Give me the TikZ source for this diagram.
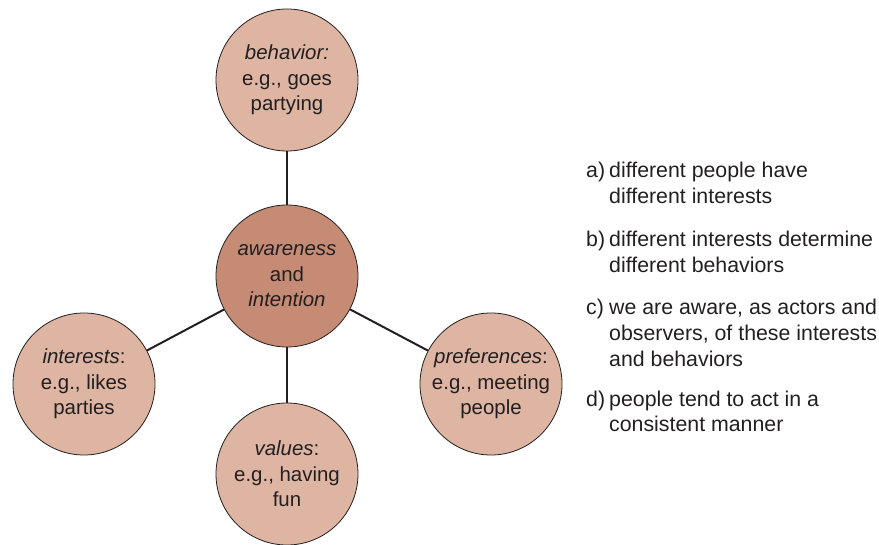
\documentclass[tikz,border=0pt]{standalone}
\usepackage{fontspec}
\setmainfont{Liberation Sans}
\definecolor{outerfill}{HTML}{DDB5A2}
\definecolor{innerfill}{HTML}{C68B75}
\definecolor{ink}{HTML}{231F20}
% one lettered statement, hanging indent after the label
\newcommand{\stmt}[2]{\begin{tabular}[t]{@{}l@{}l@{}}\makebox[23bp][l]{#1}&%
  \begin{tabular}[t]{@{}l@{}}#2\end{tabular}\end{tabular}}
\begin{document}
\begin{tikzpicture}[x=1bp,y=-1bp,
  bubble/.style={circle,draw=ink,line width=0.8bp,minimum size=142bp,inner sep=0pt,
    fill=outerfill,text=ink,align=center,font=\fontsize{20.5}{25.5}\selectfont},
  hub/.style={bubble,fill=innerfill},
  link/.style={draw=ink,line width=2bp},
  listitem/.style={anchor=base west,inner sep=0pt,text=ink,
    font=\fontsize{21.4}{26}\selectfont}]
\useasboundingbox (0,0) rectangle (879,545);
% concept circles
\node[hub]    (core)  at (287,276) {\textit{awareness}\\and\\\textit{intention}};
\node[bubble] (beh)   at (287,80)  {\textit{behavior:}\\e.g., goes\\partying};
\node[bubble] (int)   at (84,384)  {\textit{interests}:\\e.g., likes\\parties};
\node[bubble] (pref)  at (491,384) {\textit{preferences}:\\e.g., meeting\\people};
\node[bubble] (val)   at (287,474) {\textit{values}:\\e.g., having\\fun};
% spokes
\draw[link] (core) -- (beh);
\draw[link] (core) -- (int);
\draw[link] (core) -- (pref);
\draw[link] (core) -- (val);
% statements
\node[listitem] (sa) at (586,178) {\stmt{a)}{different people have\\different interests}};
\node[listitem] (sb) at (586,247) {\stmt{b)}{different interests determine\\different behaviors}};
\node[listitem] (sc) at (586,315) {\stmt{c)}{we are aware, as actors and\\observers, of these interests\\and behaviors}};
\node[listitem] (sd) at (586,406) {\stmt{d)}{people tend to act in a\\consistent manner}};
\end{tikzpicture}
\end{document}
